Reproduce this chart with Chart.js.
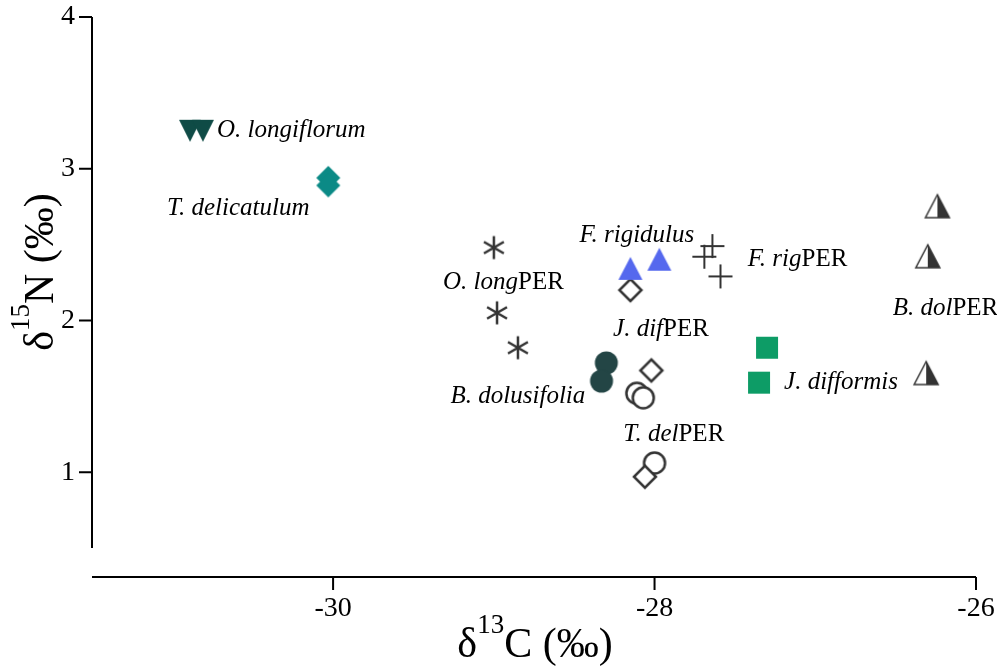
<!DOCTYPE html>
<html>
<head>
<meta charset="utf-8">
<script src="https://cdn.jsdelivr.net/npm/chart.js@4/dist/chart.umd.min.js"></script>
<style>
html, body { margin: 0; padding: 0; background: #fff; }
#wrap { width: 997px; height: 668px; }
</style>
</head>
<body>
<div id="wrap"><canvas id="myChart" width="997" height="668"></canvas></div>
<script>
var xTicks = [-30, -28, -26];
var yTicks = [1, 2, 3, 4];

// groups in drawing order (first one ends up on top)
var groups = ['O. longiflorum', 'T. delicatulum', 'O. longPER', 'F. rigidulus', 'F. rigPER',
              'B. dolusifolia', 'J. difPER', 'T. delPER', 'J. difformis', 'B. dolPER'];

var d13C = [
  [-30.89, -30.81],
  [-30.03, -30.03],
  [-29.00, -28.98, -28.85],
  [-28.15, -27.97],
  [-27.64, -27.69, -27.59],
  [-28.30, -28.33],
  [-28.15, -28.02, -28.06],
  [-28.11, -28.07, -28.00],
  [-27.30, -27.35],
  [-26.24, -26.30, -26.31]
];
var d15N = [
  [3.25, 3.25],
  [2.94, 2.89],
  [2.48, 2.05, 1.82],
  [2.34, 2.40],
  [2.49, 2.42, 2.29],
  [1.72, 1.60],
  [2.20, 1.67, 0.97],
  [1.52, 1.49, 1.06],
  [1.82, 1.59],
  [2.75, 2.42, 1.65]
];

// where the group names sit (centre of the text, in data units)
var labelC = [-30.26, -30.59, -28.94, -28.11, -27.11, -28.85, -27.96, -27.88, -26.84, -26.19];
var labelN = [3.25, 2.74, 2.25, 2.56, 2.40, 1.50, 1.94, 1.25, 1.59, 2.08];

var kinds  = ['tridown', 'diamond', 'star', 'triangle', 'plus', 'circle', 'odiamond', 'ocircle', 'square', 'halftri'];
var colors = ['#0f4b46', '#0b8a86', '#333333', '#5568ee', '#333333', '#234545', '#333333', '#333333', '#0d9c66', '#333333'];

function marker(kind, color) {
  var c = document.createElement('canvas');
  c.width = 30; c.height = 30;
  var g = c.getContext('2d');
  g.translate(15, 15);
  g.fillStyle = color; g.strokeStyle = color; g.lineWidth = 2;
  g.beginPath();
  if (kind == 'tridown') {
    g.moveTo(-11, -11); g.lineTo(11, -11); g.lineTo(0, 11); g.closePath(); g.fill();
  } else if (kind == 'triangle') {
    g.moveTo(-12, 11); g.lineTo(12, 11); g.lineTo(0, -12); g.closePath(); g.fill();
  } else if (kind == 'diamond') {
    g.moveTo(0, -12); g.lineTo(12, 0); g.lineTo(0, 12); g.lineTo(-12, 0); g.closePath(); g.fill();
  } else if (kind == 'odiamond') {
    g.moveTo(0, -11); g.lineTo(11, 0); g.lineTo(0, 11); g.lineTo(-11, 0); g.closePath();
    g.fillStyle = '#fff'; g.fill(); g.lineWidth = 2.5; g.stroke();
  } else if (kind == 'circle') {
    g.arc(0, 0, 11.5, 0, Math.PI * 2); g.fill();
  } else if (kind == 'ocircle') {
    g.arc(0, 0, 10.5, 0, Math.PI * 2); g.fillStyle = '#fff'; g.fill(); g.lineWidth = 2.5; g.stroke();
  } else if (kind == 'square') {
    g.rect(-11, -11, 22, 22); g.fill();
  } else if (kind == 'plus') {
    g.moveTo(-12, 0); g.lineTo(12, 0); g.moveTo(0, -12); g.lineTo(0, 12); g.stroke();
  } else if (kind == 'star') {
    g.lineWidth = 2.5;
    for (var i = 0; i < 3; i++) {
      var a = Math.PI / 2 + i * Math.PI / 3;
      g.moveTo(Math.cos(a) * 11.5, Math.sin(a) * 11.5);
      g.lineTo(-Math.cos(a) * 11.5, -Math.sin(a) * 11.5);
    }
    g.stroke();
  } else if (kind == 'halftri') {
    g.moveTo(-12, 11); g.lineTo(12, 11); g.lineTo(0, -12); g.closePath();
    g.fillStyle = '#fff'; g.fill();
    g.beginPath(); g.moveTo(0, 11); g.lineTo(12, 11); g.lineTo(0, -12); g.closePath();
    g.fillStyle = color; g.fill();
    g.beginPath(); g.moveTo(-12, 11); g.lineTo(12, 11); g.lineTo(0, -12); g.closePath();
    g.lineWidth = 1.5; g.stroke();
  }
  return c;
}

var serif = '"Liberation Serif", "Times New Roman", serif';

var datasets = [];
for (var i = 0; i < groups.length; i++) {
  var pts = [];
  for (var j = 0; j < d13C[i].length; j++) pts.push({x: d13C[i][j], y: d15N[i][j]});
  datasets.push({
    label: groups[i],
    data: pts,
    pointStyle: marker(kinds[i], colors[i]),
    pointRadius: 12,
    pointHoverRadius: 12
  });
}

// superscripted axis title: base, sup, rest
function supTitle(ctx, x, y, base, sup, rest) {
  ctx.font = '42px ' + serif;
  var w1 = ctx.measureText(base).width, w3 = ctx.measureText(rest).width;
  ctx.font = '27px ' + serif;
  var w2 = ctx.measureText(sup).width;
  var left = x - (w1 + w2 + w3) / 2;
  ctx.textAlign = 'left'; ctx.textBaseline = 'alphabetic';
  ctx.font = '42px ' + serif;
  ctx.fillText(base, left, y);
  ctx.font = '27px ' + serif;
  ctx.fillText(sup, left + w1, y - 24);
  ctx.font = '42px ' + serif;
  ctx.fillText(rest, left + w1 + w2, y);
}

var annot = {
  id: 'annot',
  afterDraw: function(chart) {
    var ctx = chart.ctx, xs = chart.scales.x, ys = chart.scales.y, a = chart.chartArea;
    ctx.save();
    ctx.strokeStyle = '#000';
    ctx.lineWidth = 2;
    ctx.beginPath();
    ctx.moveTo(a.left, a.top); ctx.lineTo(a.left, a.bottom);
    yTicks.forEach(function(v) {
      var p = ys.getPixelForValue(v);
      ctx.moveTo(a.left - 13, p); ctx.lineTo(a.left, p);
    });
    var xb = a.bottom + 29;
    ctx.moveTo(a.left, xb); ctx.lineTo(a.right, xb);
    xTicks.forEach(function(v) {
      var p = xs.getPixelForValue(v);
      ctx.moveTo(p, xb); ctx.lineTo(p, xb + 13);
    });
    ctx.stroke();

    ctx.fillStyle = '#000';
    supTitle(ctx, 535, 657, '\u03b4', '13', 'C (\u2030)');
    ctx.save();
    ctx.translate(53, 272);
    ctx.rotate(-Math.PI / 2);
    supTitle(ctx, 0, 0, '\u03b4', '15', 'N (\u2030)');
    ctx.restore();

    // group names, italic with upright PER suffix
    ctx.textBaseline = 'middle';
    ctx.textAlign = 'left';
    for (var i = 0; i < groups.length; i++) {
      var name = groups[i], it = name, up = '';
      if (name.slice(-3) == 'PER') { it = name.slice(0, -3); up = 'PER'; }
      ctx.font = 'italic 25px ' + serif;
      var wi = ctx.measureText(it).width;
      ctx.font = '25px ' + serif;
      var wu = ctx.measureText(up).width;
      var cx = xs.getPixelForValue(labelC[i]) - (wi + wu) / 2;
      var cy = ys.getPixelForValue(labelN[i]);
      ctx.font = 'italic 25px ' + serif;
      ctx.fillText(it, cx, cy);
      ctx.font = '25px ' + serif;
      ctx.fillText(up, cx + wi, cy);
    }
    ctx.restore();
  }
};

function noPad(s) {
  s.paddingTop = 0; s.paddingBottom = 0; s.paddingLeft = 0; s.paddingRight = 0;
}

var config = {
  type: 'scatter',
  data: { datasets: datasets },
  options: {
    responsive: false,
    animation: false,
    layout: { padding: { top: 17, right: 21, left: 0, bottom: 0 } },
    plugins: {
      legend: { display: false },
      tooltip: { enabled: false }
    },
    scales: {
      x: {
        type: 'linear',
        min: -31.5,
        max: -26,
        grid: { display: false, drawTicks: false },
        border: { display: false },
        afterBuildTicks: function(s) { s.ticks = xTicks.map(function(v) { return {value: v}; }); },
        afterFit: function(s) { s.height = 120; noPad(s); },
        ticks: { padding: 44, color: '#000', font: { family: serif, size: 28 } }
      },
      y: {
        type: 'linear',
        min: 0.5,
        max: 4,
        grid: { display: false, drawTicks: false },
        border: { display: false },
        afterBuildTicks: function(s) { s.ticks = yTicks.map(function(v) { return {value: v}; }); },
        afterFit: function(s) { s.width = 92; noPad(s); },
        ticks: { padding: 17, color: '#000', font: { family: serif, size: 28 } }
      }
    }
  },
  plugins: [annot]
};

var ctx = document.getElementById('myChart').getContext('2d');
var myChart = new Chart(ctx, config);
</script>
</body>
</html>
